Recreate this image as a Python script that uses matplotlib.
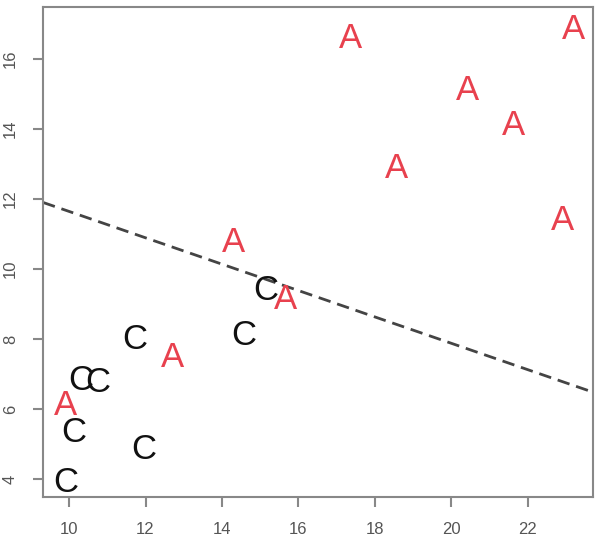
import matplotlib
matplotlib.use("Agg")
import matplotlib.pyplot as plt
import matplotlib.transforms as mtransforms

# Data
a_x = [9.90, 12.70, 14.31, 15.65, 17.35, 18.55, 20.41, 21.61, 22.89, 23.18]
a_y = [6.17, 7.52, 10.83, 9.20, 16.66, 12.94, 15.17, 14.17, 11.46, 16.89]
c_x = [9.92, 10.13, 10.31, 10.76, 11.73, 11.96, 14.58, 15.15]
c_y = [3.97, 5.40, 6.89, 6.83, 8.05, 4.91, 8.17, 9.46]
line_intercept = 15.42
line_slope = -0.377
x_ticks = [10, 12, 14, 16, 18, 20, 22]
y_ticks = [4, 6, 8, 10, 12, 14, 16]

plt.rcParams['font.family'] = ['Liberation Sans', 'DejaVu Sans']

fig = plt.figure(figsize=(5.95, 5.38), dpi=100)
ax = fig.add_axes([43/595, 1-497/538, 550/595, 490/538])
ax.set_xlim(9.32, 23.7)
ax.set_ylim(3.49, 17.49)

off = mtransforms.ScaledTranslation(0, -2/100, fig.dpi_scale_trans)
tr = ax.transData + off
for x, y in zip(a_x, a_y):
    ax.text(x, y, "A", color="#e8414e", fontsize=25, ha="center", va="center", transform=tr)
for x, y in zip(c_x, c_y):
    ax.text(x, y, "C", color="#111111", fontsize=25, ha="center", va="center", transform=tr)

ax.axline((0, line_intercept), slope=line_slope, color="#444444", lw=2.0,
          linestyle=(0, (4.5, 2.5)))

ax.set_xticks(x_ticks)
ax.set_yticks(y_ticks)
for s in ax.spines.values():
    s.set_color("#888888")
    s.set_linewidth(1.5)
ax.tick_params(axis='both', colors="#888888", length=7, width=1.5, labelsize=12,
               labelcolor="#555555", pad=11)
for lab in ax.get_yticklabels():
    lab.set_rotation(90)
    lab.set_va("center")

fig.savefig("out.png", dpi=100)
